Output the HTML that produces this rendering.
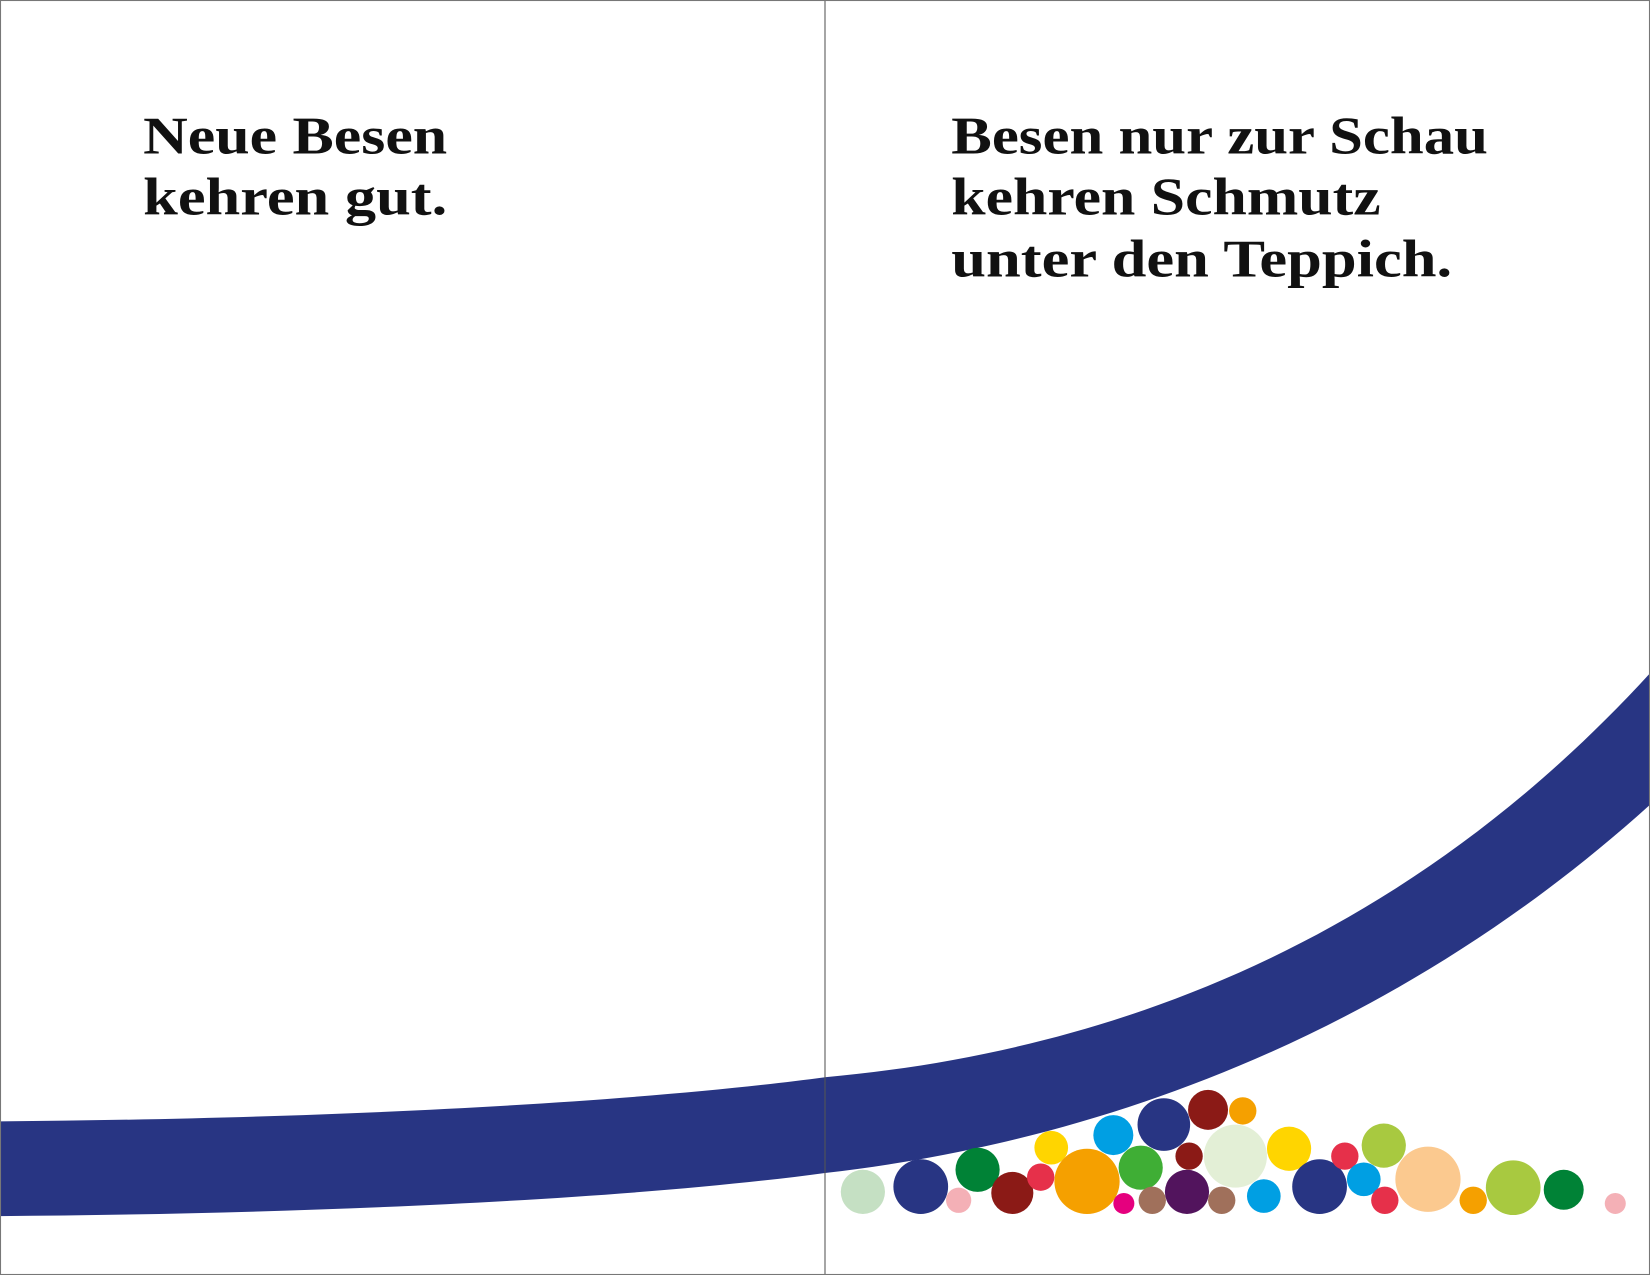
<!DOCTYPE html>
<html><head><meta charset="utf-8"><style>
html,body{margin:0;padding:0;background:#fff}
svg{display:block}
text{font-family:"Liberation Serif",serif;font-weight:bold;fill:#111}
</style></head><body>
<svg width="1650" height="1275" viewBox="0 0 1568 1212" preserveAspectRatio="none">
<rect x="0" y="0" width="1568" height="1212" fill="#fff"/>
<path d="M0,1066 C350,1063 620,1046 784,1024 C1050,1000 1330,900 1568,640 L1568,765 C1330,980 1050,1085 784,1115 C600,1140 300,1154 0,1156 Z" fill="#283583"/>
<line x1="784" y1="0" x2="784" y2="1212" stroke="#555" stroke-width="1"/>
<rect x="0.5" y="0.5" width="1567" height="1211" fill="none" stroke="#777" stroke-width="1"/>
<g font-size="50">
<text x="136" y="146" textLength="289" lengthAdjust="spacingAndGlyphs">Neue Besen</text>
<text x="136" y="204" textLength="289" lengthAdjust="spacingAndGlyphs">kehren gut.</text>
<text x="904" y="146" textLength="510" lengthAdjust="spacingAndGlyphs">Besen nur zur Schau</text>
<text x="904" y="204" textLength="408" lengthAdjust="spacingAndGlyphs">kehren Schmutz</text>
<text x="904" y="263" textLength="476" lengthAdjust="spacingAndGlyphs">unter den Teppich.</text>
</g>
<g>
<circle cx="820" cy="1133" r="21" fill="#c5e0c3"/>
<circle cx="875" cy="1128" r="26" fill="#283583"/>
<circle cx="911" cy="1141" r="12" fill="#f4b0b6"/>
<circle cx="929" cy="1112" r="21" fill="#008236"/>
<circle cx="962" cy="1134" r="20" fill="#8b1a16"/>
<circle cx="989" cy="1119" r="13" fill="#e6304a"/>
<circle cx="999" cy="1091" r="16" fill="#ffd500"/>
<circle cx="1033" cy="1123" r="31" fill="#f5a000"/>
<circle cx="1068" cy="1144" r="10" fill="#e5007e"/>
<circle cx="1058" cy="1079" r="19" fill="#009fe3"/>
<circle cx="1084" cy="1110" r="21" fill="#3fae35"/>
<circle cx="1095" cy="1141" r="13" fill="#a0705b"/>
<circle cx="1106" cy="1069" r="25" fill="#283583"/>
<circle cx="1128" cy="1133" r="21" fill="#52145d"/>
<circle cx="1130" cy="1099" r="13" fill="#8b1a16"/>
<circle cx="1148" cy="1055" r="19" fill="#8b1a16"/>
<circle cx="1181" cy="1056" r="13" fill="#f5a000"/>
<circle cx="1174" cy="1099" r="30" fill="#e3efd6"/>
<circle cx="1161" cy="1141" r="13" fill="#a0705b"/>
<circle cx="1201" cy="1137" r="16" fill="#009fe3"/>
<circle cx="1225" cy="1092" r="21" fill="#ffd500"/>
<circle cx="1254" cy="1128" r="26" fill="#283583"/>
<circle cx="1278" cy="1099" r="13" fill="#e6304a"/>
<circle cx="1296" cy="1121" r="16" fill="#009fe3"/>
<circle cx="1316" cy="1141" r="13" fill="#e6304a"/>
<circle cx="1315" cy="1089" r="21" fill="#a8c940"/>
<circle cx="1357" cy="1121" r="31" fill="#fbc98f"/>
<circle cx="1400" cy="1141" r="13" fill="#f5a000"/>
<circle cx="1438" cy="1129" r="26" fill="#a8c940"/>
<circle cx="1486" cy="1131" r="19" fill="#008236"/>
<circle cx="1535" cy="1144" r="10" fill="#f4b0b6"/>
</g>
</svg>
</body></html>
